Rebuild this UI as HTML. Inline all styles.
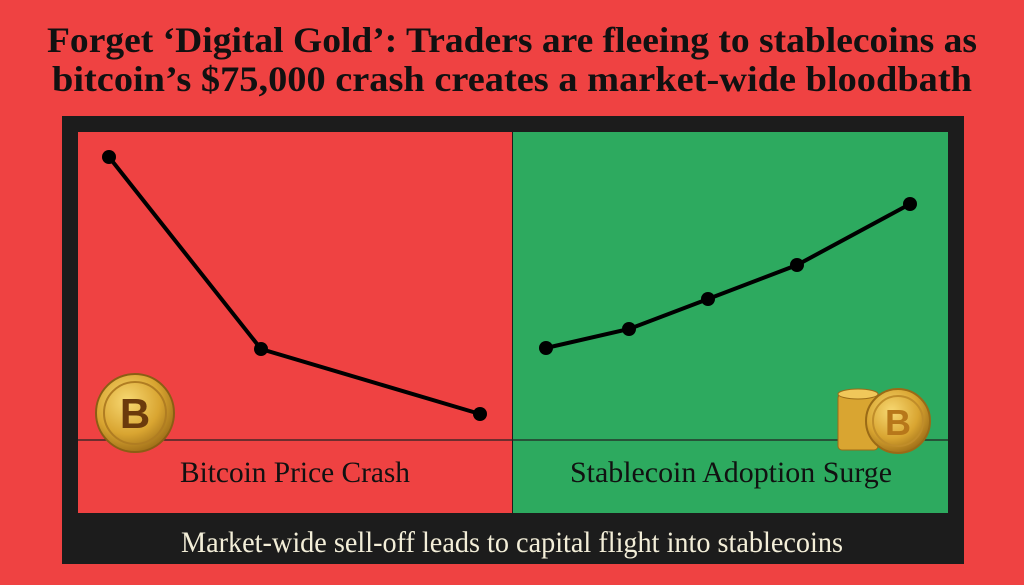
<!DOCTYPE html>
<html><head><meta charset="utf-8"><style>
html,body{margin:0;padding:0;background:#ef4242;}
svg{display:block}
</style></head><body>
<svg width="1024" height="585" viewBox="0 0 1024 585" xmlns="http://www.w3.org/2000/svg">
<defs>
<radialGradient id="g1" cx="40%" cy="35%" r="70%"><stop offset="0" stop-color="#f7d872"/><stop offset="0.6" stop-color="#d9a531"/><stop offset="1" stop-color="#9a6a16"/></radialGradient>
</defs>
<rect width="1024" height="585" fill="#ef4242"/>
<g font-family="Liberation Serif, serif" font-weight="bold" fill="#111" font-size="36">
<text x="512" y="52" text-anchor="middle" textLength="930" lengthAdjust="spacingAndGlyphs">Forget ‘Digital Gold’: Traders are fleeing to stablecoins as</text>
<text x="512" y="91" text-anchor="middle" textLength="920" lengthAdjust="spacingAndGlyphs">bitcoin’s $75,000 crash creates a market-wide bloodbath</text>
</g>
<rect x="62" y="116" width="902" height="448" fill="#1c1c1c"/>
<rect x="78" y="132" width="434" height="381" fill="#ef4242"/>
<rect x="513" y="132" width="435" height="381" fill="#2daa5f"/>
<line x1="78" y1="440" x2="948" y2="440" stroke="#222" stroke-width="1.2"/>
<polyline points="109,157 261,349 480,414" fill="none" stroke="#000" stroke-width="4"/>
<g fill="#000"><circle cx="109" cy="157" r="7"/><circle cx="261" cy="349" r="7"/><circle cx="480" cy="414" r="7"/></g>
<polyline points="546,348 629,329 708,299 797,265 910,204" fill="none" stroke="#000" stroke-width="4"/>
<g fill="#000"><circle cx="546" cy="348" r="7"/><circle cx="629" cy="329" r="7"/><circle cx="708" cy="299" r="7"/><circle cx="797" cy="265" r="7"/><circle cx="910" cy="204" r="7"/></g>
<circle cx="135" cy="413" r="39" fill="url(#g1)" stroke="#8a5e14" stroke-width="2"/>
<circle cx="135" cy="413" r="31" fill="none" stroke="#b07d22" stroke-width="2"/>
<text x="135" y="428" text-anchor="middle" font-family="Liberation Sans,sans-serif" font-weight="bold" font-size="42" fill="#6b3a0c">B</text>
<g fill="#d9a531" stroke="#9a6a16" stroke-width="1">
<rect x="838" y="394" width="40" height="56" rx="4"/>
<ellipse cx="858" cy="394" rx="20" ry="5" fill="#f0c75a"/>
</g>
<circle cx="898" cy="421" r="32" fill="url(#g1)" stroke="#9a6a16" stroke-width="2"/>
<circle cx="898" cy="421" r="25" fill="none" stroke="#c08d2a" stroke-width="2"/>
<text x="898" y="435" text-anchor="middle" font-family="Liberation Sans,sans-serif" font-weight="bold" font-size="36" fill="#b7771a">B</text>
<g font-family="Liberation Serif, serif" fill="#111" font-size="30">
<text x="295" y="482" text-anchor="middle" textLength="230" lengthAdjust="spacingAndGlyphs">Bitcoin Price Crash</text>
<text x="731" y="482" text-anchor="middle" textLength="322" lengthAdjust="spacingAndGlyphs">Stablecoin Adoption Surge</text>
</g>
<text x="512" y="552" text-anchor="middle" font-family="Liberation Serif, serif" font-size="30" fill="#f3eed8" textLength="662" lengthAdjust="spacingAndGlyphs">Market-wide sell-off leads to capital flight into stablecoins</text>
</svg>
</body></html>
